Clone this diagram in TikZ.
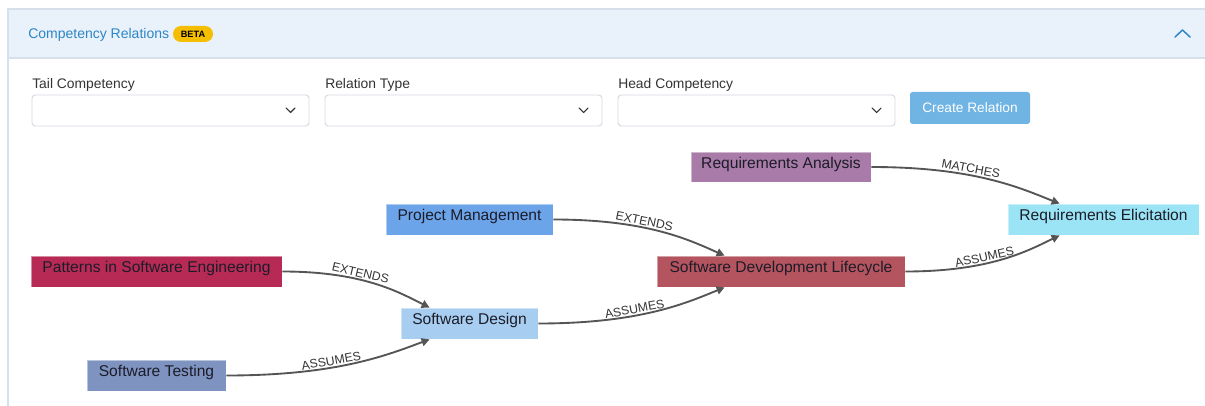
\documentclass[tikz,border=0pt]{standalone}
\usepackage{fontspec}
\setmainfont{Liberation Sans}
\usetikzlibrary{arrows.meta,calc}
\newcommand\pxu{0.75pt}
\definecolor{hdrfill}{HTML}{E9F1FB}
\definecolor{hdrline}{HTML}{D5E0EC}
\definecolor{titleblue}{HTML}{2C86C6}
\definecolor{betayel}{HTML}{F6BE00}
\definecolor{lblgray}{HTML}{333333}
\definecolor{boxline}{HTML}{D3D9E0}
\definecolor{btnblue}{HTML}{6FB4E3}
\definecolor{edgegray}{HTML}{555555}
\definecolor{nodetext}{HTML}{1C1C28}
\definecolor{cRA}{HTML}{A97BA8}
\definecolor{cRE}{HTML}{9AE4F5}
\definecolor{cPM}{HTML}{6CA4EA}
\definecolor{cSDL}{HTML}{B4545F}
\definecolor{cPSE}{HTML}{B82A56}
\definecolor{cSD}{HTML}{A7CDF0}
\definecolor{cST}{HTML}{7F93C1}
\tikzset{
  comp/.style={rectangle, draw=white, draw opacity=0.45, line width=0.6pt,
    minimum height=31*\pxu, inner sep=0pt, text=nodetext,
    text height=8.6pt, text depth=6.4pt,
    font=\fontsize{11.7}{13}\selectfont},
  edge/.style={draw=edgegray, line width=1.4pt, -{Triangle[length=6pt,width=6pt]}},
  elabel/.style={sloped, above=0pt, inner sep=1pt, text=lblgray, pos=0.39,
    font=\fontsize{9.2}{10}\selectfont},
  formlabel/.style={anchor=base west, inner sep=0pt, text=lblgray,
    font=\fontsize{10.4}{12}\selectfont},
  dropbox/.style={draw=boxline, fill=white, rounded corners=2.5pt, line width=0.7pt},
  chev/.style={draw=lblgray, line width=0.8pt, line cap=round, line join=round}
}
\begin{document}
\begin{tikzpicture}[x=0.75pt,y=-0.75pt]
\useasboundingbox (0,0) rectangle (1205,406);
% panel
\fill[white] (0,0) rectangle (1205,406);
\fill[hdrfill] (8,9) rectangle (1205,58);
\draw[hdrline, line width=0.8pt] (1205,9) -- (8,9) -- (8,406);
\draw[hdrline, line width=0.8pt] (8,58) -- (1205,58);
\node[anchor=base west, inner sep=0pt, text=titleblue, font=\fontsize{10.5}{12}\selectfont] (title) at (28,39) {Competency Relations};
\node[fill=betayel, rounded corners=8*\pxu, minimum width=40*\pxu, minimum height=16*\pxu, inner sep=0pt,
  font=\fontsize{6.9}{8}\selectfont\bfseries] (beta) at (193,34) {BETA};
\draw[draw=titleblue, line width=1.1pt, line cap=round, line join=round] (1175,37) -- (1182.5,30) -- (1190,37);
% form
\node[formlabel] (l1) at (32,89) {Tail Competency};
\node[formlabel] (l2) at (325,89) {Relation Type};
\node[formlabel] (l3) at (618,89) {Head Competency};
\draw[dropbox] (32,95) rectangle (309,126);
\draw[dropbox] (325,95) rectangle (602,126);
\draw[dropbox] (618,95) rectangle (895,126);
\draw[chev] (286,108) -- (290.5,112.5) -- (295,108);
\draw[chev] (579,108) -- (583.5,112.5) -- (588,108);
\draw[chev] (872,108) -- (876.5,112.5) -- (881,108);
\node[fill=btnblue, rounded corners=2pt, minimum width=120*\pxu, minimum height=32*\pxu, inner sep=0pt,
  text=white, font=\fontsize{10.3}{12}\selectfont] (btn) at (970,108) {Create Relation};
% nodes
\node[comp, fill=cRA, minimum width=180*\pxu, minimum height=30*\pxu] (RA) at (781,167) {Requirements Analysis};
\node[comp, fill=cRE, minimum width=191*\pxu] (RE) at (1103.5,219.5) {Requirements Elicitation};
\node[comp, fill=cPM, minimum width=167*\pxu] (PM) at (469.5,219.5) {Project Management};
\node[comp, fill=cSDL, minimum width=248*\pxu] (SDL) at (781,271.5) {Software Development Lifecycle};
\node[comp, fill=cPSE, minimum width=251*\pxu] (PSE) at (156.5,271.5) {Patterns in Software Engineering};
\node[comp, fill=cSD, minimum width=137*\pxu] (SD) at (469.5,323.5) {Software Design};
\node[comp, fill=cST, minimum width=139*\pxu] (ST) at (156.5,375.5) {Software Testing};
% end points
\coordinate (e1) at ($(RE.north west)+(52,0)$);
\coordinate (e2) at ($(RE.south west)+(52,0)$);
\coordinate (e3) at ($(SDL.north west)+(68,0)$);
\coordinate (e4) at ($(SDL.south west)+(68,0)$);
\coordinate (e5) at ($(SD.north west)+(29,0)$);
\coordinate (e6) at ($(SD.south west)+(29,0)$);
% edges
\draw[edge] (RA.east) .. controls +(104,0) and +(-38,-15) .. node[elabel] {MATCHES} (e1);
\draw[edge] (SDL.east) .. controls +(85,0) and +(-31,15) .. node[elabel] {ASSUMES} (e2);
\draw[edge] (PM.east) .. controls +(95,0) and +(-34,-15) .. node[elabel] {EXTENDS} (e3);
\draw[edge] (SD.east) .. controls +(103,0) and +(-37,15) .. node[elabel] {ASSUMES} (e4);
\draw[edge] (PSE.east) .. controls +(81,0) and +(-30,-15) .. node[elabel] {EXTENDS} (e5);
\draw[edge] (ST.east) .. controls +(112,0) and +(-41,15) .. node[elabel] {ASSUMES} (e6);
\end{tikzpicture}
\end{document}
